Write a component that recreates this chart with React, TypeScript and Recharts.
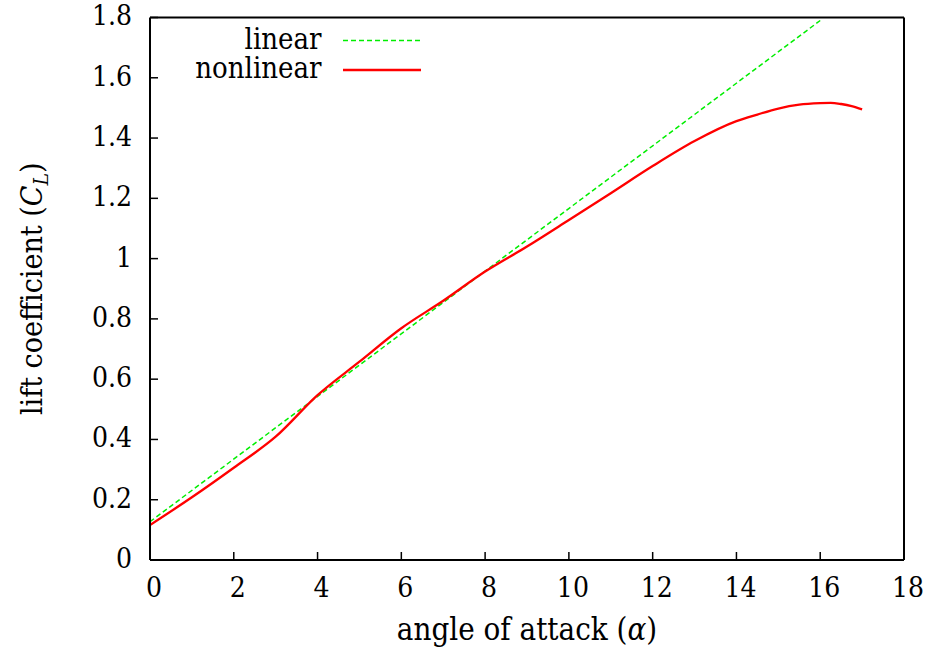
import React from 'react';
import { LineChart, Line, XAxis, YAxis, Legend, Label } from 'recharts';

// Lift coefficient vs angle of attack (degrees)
const nonlinearAlpha = [0, 1, 2, 3, 4, 5, 6, 7, 8, 9, 10, 11, 12, 13, 14, 14.5, 15, 15.5, 16, 16.25, 16.5, 16.75, 17];
const nonlinearCL = [0.116, 0.208, 0.306, 0.409, 0.547, 0.658, 0.769, 0.86, 0.957, 1.04, 1.128, 1.217, 1.307, 1.39, 1.456, 1.478, 1.498, 1.511, 1.516, 1.517, 1.513, 1.506, 1.495];

const linearAlpha = [0, 16];
const linearCL = [0.127, 1.79];

const xTicks = [0, 2, 4, 6, 8, 10, 12, 14, 16, 18];
const yTicks = [0, 0.2, 0.4, 0.6, 0.8, 1, 1.2, 1.4, 1.6, 1.8];

const nonlinearData = nonlinearAlpha.map((a, i) => ({ alpha: a, cl: nonlinearCL[i] }));
const linearData = linearAlpha.map((a, i) => ({ alpha: a, cl: linearCL[i] }));

const FONT = '"DejaVu Serif Condensed", "DejaVu Serif", serif';
const frame = { stroke: '#000', strokeWidth: 2 };
const tickStroke = { stroke: '#000', strokeWidth: 1.5 };

const XTitle = (props: any) => {
  const { x, y, width } = props.viewBox;
  return (
    <text x={x + width / 2} y={y + 80} textAnchor="middle" style={{ fontFamily: FONT }} fontSize={31} fill="#000">
      angle of attack (<tspan fontStyle="italic">α</tspan>)
    </text>
  );
};

const YTitle = (props: any) => {
  const { y, height } = props.viewBox;
  const cx = 42;
  const cy = y + height / 2;
  return (
    <text
      x={cx}
      y={cy}
      transform={`rotate(-90, ${cx}, ${cy})`}
      textAnchor="middle"
      style={{ fontFamily: FONT }}
      fontSize={30}
      fill="#000"
    >
      lift coefficient (<tspan fontStyle="italic">C</tspan>
      <tspan fontStyle="italic" fontSize={21} dy={6}>L</tspan>
      <tspan dy={-6}>)</tspan>
    </text>
  );
};

const LegendBox = (props: any) => {
  const payload = props.payload || [];
  return (
    <svg width={260} height={80}>
      {payload.map((entry: any, i: number) => {
        const rowY = 20.5 + i * 29.5;
        const dash = entry.payload && entry.payload.strokeDasharray;
        const sw = entry.payload && entry.payload.strokeWidth;
        return (
          <g key={entry.value}>
            <text x={141.5} y={rowY + 8} textAnchor="end" style={{ fontFamily: FONT }} fontSize={29} fill="#000">
              {entry.value}
            </text>
            <line x1={163} x2={241} y1={rowY} y2={rowY} stroke={entry.color} strokeWidth={sw} strokeDasharray={dash} />
          </g>
        );
      })}
    </svg>
  );
};

export default function App() {
  return (
    <div style={{ position: 'absolute', left: 0, top: 0, background: '#fff' }}>
      <LineChart width={930} height={656} margin={{ top: 16.5, right: 25, bottom: 0, left: 0 }}>
        <XAxis
          dataKey="alpha"
          type="number"
          domain={[0, 18]}
          ticks={xTicks}
          allowDataOverflow
          height={96}
          axisLine={frame}
          tickLine={tickStroke}
          tickSize={-8}
          tickMargin={25}
          tick={{ fill: '#000', fontSize: 28, style: { fontFamily: FONT }, dx: 4 }}
        >
          <Label content={XTitle} />
        </XAxis>
        <XAxis
          xAxisId="top"
          orientation="top"
          dataKey="alpha"
          type="number"
          domain={[0, 18]}
          ticks={xTicks}
          allowDataOverflow
          height={1}
          axisLine={frame}
          tickLine={tickStroke}
          tickSize={-8}
          tick={false}
        />
        <YAxis
          type="number"
          domain={[0, 1.8]}
          ticks={yTicks}
          allowDataOverflow
          width={150}
          axisLine={frame}
          tickLine={tickStroke}
          tickSize={-8}
          tickMargin={26}
          tick={{ fill: '#000', fontSize: 28, style: { fontFamily: FONT }, dy: -2 }}
        >
          <Label content={YTitle} />
        </YAxis>
        <YAxis
          yAxisId="right"
          orientation="right"
          type="number"
          domain={[0, 1.8]}
          ticks={yTicks}
          allowDataOverflow
          width={1}
          axisLine={frame}
          tickLine={tickStroke}
          tickSize={-8}
          tick={false}
        />
        <Legend
          layout="horizontal"
          verticalAlign="middle"
          align="center"
          content={LegendBox}
          wrapperStyle={{ position: 'absolute', left: 180, top: 20, width: 260, height: 80 }}
        />
        <Line
          data={linearData}
          dataKey="cl"
          name="linear"
          type="linear"
          stroke="#00ee00"
          strokeWidth={1.5}
          strokeDasharray="5 3"
          dot={false}
          isAnimationActive={false}
        />
        <Line
          data={nonlinearData}
          dataKey="cl"
          name="nonlinear"
          type="monotone"
          stroke="#ff0000"
          strokeWidth={2.3}
          dot={false}
          isAnimationActive={false}
        />
      </LineChart>
    </div>
  );
}
